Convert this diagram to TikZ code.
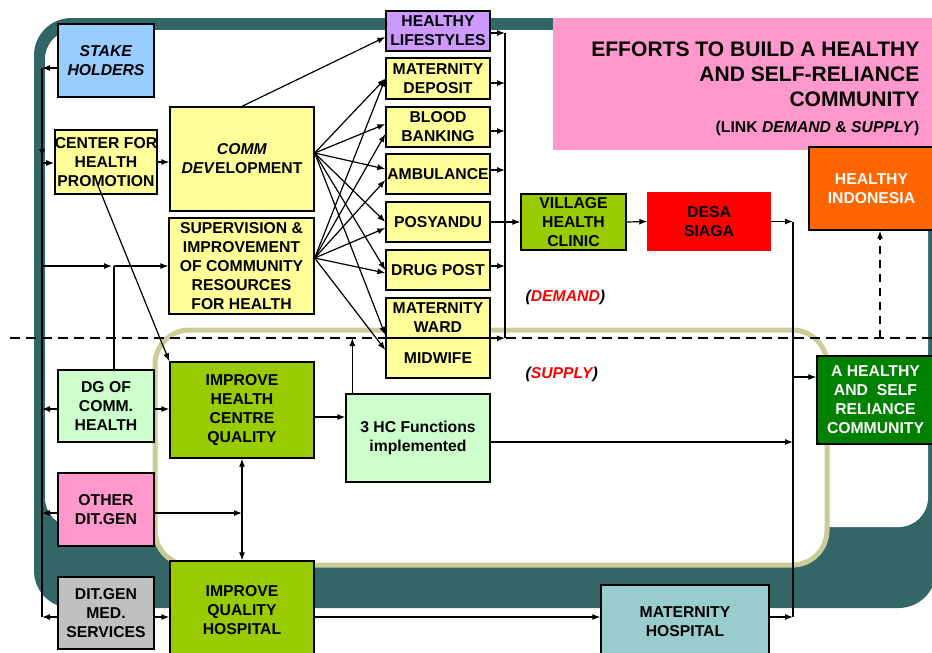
\documentclass[tikz,border=0pt]{standalone}
\usepackage{fontspec}
\setmainfont{Liberation Sans}
\usetikzlibrary{arrows.meta}

\definecolor{bandteal}{HTML}{336666}
\definecolor{rimbeige}{HTML}{CCCC99}
\definecolor{boxyellow}{HTML}{FFFF99}
\definecolor{boxblue}{HTML}{99CCFF}
\definecolor{boxlilac}{HTML}{CC99FF}
\definecolor{boxpink}{HTML}{FF99CC}
\definecolor{boxmint}{HTML}{CCFFCC}
\definecolor{boxlime}{HTML}{99CC00}
\definecolor{boxorange}{HTML}{FF6600}
\definecolor{boxgreen}{HTML}{008000}
\definecolor{boxgray}{HTML}{C0C0C0}
\definecolor{boxaqua}{HTML}{99CCCC}

\tikzset{
  box/.style={draw, line width=1pt, inner sep=0pt, align=center,
    font=\bfseries\fontsize{11.8}{14.2}\selectfont},
  sz/.style 2 args={minimum width=#1*0.75pt, minimum height=#2*0.75pt},
}

\begin{document}
\begin{tikzpicture}[x=0.75pt, y=-0.75pt, line width=0.9pt,
  >={Latex[length=6pt,width=4.5pt]}]

\useasboundingbox (0,0) rectangle (932,653);

% frame
\fill[bandteal, rounded corners=28pt] (34,18) rectangle (936,608);
\fill[white, rounded corners=22pt] (45,30) rectangle (928,527);
\draw[rimbeige, line width=3.75pt, fill=white, rounded corners=26pt] (155,330) rectangle (827,565);
\draw[dashed, dash pattern=on 7.5pt off 4.5pt, line width=1pt] (10,338) -- (932,338);

\node[fill=boxpink, minimum width=382*0.75pt, minimum height=132*0.75pt] (titlebox) at (744,84) {};
\node[anchor=north east, inner sep=0pt, align=right,
  font=\bfseries\fontsize{15.8}{19}\selectfont] (title) at (920,41)
  {EFFORTS TO BUILD A HEALTHY\\AND SELF-RELIANCE\\COMMUNITY\\
   {\fontsize{11.8}{14}\selectfont (LINK \textit{DEMAND} \& \textit{SUPPLY})}};

% left column
\node[box, sz={96}{73}, fill=boxblue] (sh) at (106,60.5) {\textit{STAKE}\\\textit{HOLDERS}};
\node[box, sz={96}{64}, fill=boxyellow] (chp) at (106,162) {CENTER FOR\\HEALTH\\PROMOTION};
\node[box, sz={96}{72}, fill=boxmint] (dg) at (106,406) {DG OF\\COMM.\\HEALTH};
\node[box, sz={96}{73}, fill=boxpink] (oth) at (106,509.5) {OTHER\\DIT.GEN};
\node[box, sz={96}{72}, fill=boxgray] (dgm) at (106,613) {DIT.GEN\\MED.\\SERVICES};

% middle column
\node[box, sz={144}{104}, fill=boxyellow] (cd) at (242,159) {\textit{COMM}\\\textit{DEV}ELOPMENT};
\node[box, sz={145}{96}, fill=boxyellow] (sup) at (241.5,266)
  {SUPERVISION \&\\IMPROVEMENT\\OF COMMUNITY\\RESOURCES\\FOR HEALTH};
\node[box, sz={144}{96}, fill=boxlime] (ihc) at (242,410) {IMPROVE\\HEALTH\\CENTRE\\QUALITY};
\node[box, sz={144}{99}, fill=boxlime] (iqh) at (242,610.5) {IMPROVE\\QUALITY\\HOSPITAL};
\node[box, sz={144}{88}, fill=boxmint] (hc) at (418,438) {3 HC Functions\\implemented};

% activities
\node[box, sz={104}{40}, fill=boxlilac] (hl) at (438,31) {HEALTHY\\LIFESTYLES};
\node[box, sz={104}{41}, fill=boxyellow] (md) at (438,78.5) {MATERNITY\\DEPOSIT};
\node[box, sz={104}{40}, fill=boxyellow] (bb) at (438,127) {BLOOD\\BANKING};
\node[box, sz={104}{40}, fill=boxyellow] (amb) at (438,174) {AMBULANCE};
\node[box, sz={104}{40}, fill=boxyellow] (pos) at (438,222) {POSYANDU};
\node[box, sz={104}{40}, fill=boxyellow] (dp) at (438,270) {DRUG POST};
\node[box, sz={104}{40}, fill=boxyellow] (mw) at (438,318) {MATERNITY\\WARD};
\node[box, sz={104}{40}, fill=boxyellow] (mid) at (438,358) {MIDWIFE};

% right side
\node[box, sz={105}{56}, fill=boxlime] (vhc) at (573.5,222) {VILLAGE\\HEALTH\\CLINIC};
\node[box, sz={122}{57}, fill=red, draw=red] (desa) at (709,221.5) {DESA\\SIAGA};
\node[box, sz={125}{83}, fill=boxorange, text=white] (hi) at (871.5,188.5) {HEALTHY\\INDONESIA};
\node[box, sz={117}{88}, fill=boxgreen, text=white] (ahs) at (875.5,400)
  {A HEALTHY\\AND\ \ SELF\\RELIANCE\\COMMUNITY};
\node[box, sz={168}{74}, fill=boxaqua] (mh) at (685,622) {MATERNITY\\HOSPITAL};

\node[anchor=west, inner sep=0pt, font=\bfseries\itshape\fontsize{11.8}{14}\selectfont] (demand)
  at (525,297) {(\textcolor{red}{DEMAND})};
\node[anchor=west, inner sep=0pt, font=\bfseries\itshape\fontsize{11.8}{14}\selectfont] (supply)
  at (525,374) {(\textcolor{red}{SUPPLY})};

% left bus
\coordinate (l1) at (42,68);
\coordinate (ldown) at (42,157);
\coordinate (l2) at (42,163);
\coordinate (l3) at (42,266);
\coordinate (l4) at (42,409);
\coordinate (l5) at (42,513);
\coordinate (l6) at (42,617);
\coordinate (dgtop) at (114,266);

\draw (l1) -- (l6);
\draw[->] (l1) -- (ldown);
\draw[->] (sh.west |- l1) -- (l1);
\draw[->] (l2) -- (l2 -| chp.west);
\draw[->] (chp.east) -- (chp.east -| cd.west);
\draw[->] (l3) -- ([xshift=-1.5pt]dgtop);
\draw[->] (dgtop) -- (dgtop -| sup.west);
\draw (dgtop) -- (dgtop |- dg.north);
\draw[->] (dg.west |- l4) -- (l4);
\draw[->] (dg.east |- l4) -- (l4 -| ihc.west);
\draw[->] (oth.west |- l5) -- (l5);
\draw[->] (oth.east |- l5) -- (l5 -| ihc.south);
\draw[<->] (ihc.south) -- (iqh.north);
\draw[->] (dgm.west |- l6) -- (l6);
\draw[->] (dgm.east |- l6) -- (l6 -| iqh.west);
\draw[->] (iqh.east |- l6) -- (l6 -| mh.west);
\draw[->] ([xshift=-6pt,yshift=6.75pt]chp.south) -- (ihc.north west);

% fan to activities
\draw[->] (cd.north) -- ([yshift=-4.5pt]hl.west);
\draw[->] ([yshift=4.5pt]cd.east) -- (md.west);
\draw[->] ([yshift=4.5pt]cd.east) -- ([yshift=2.25pt]bb.west);
\draw[->] ([yshift=4.5pt]cd.east) -- ([yshift=3.75pt]amb.west);
\draw[->] ([yshift=4.5pt]cd.east) -- (pos.west);
\draw[->] ([yshift=4.5pt]cd.east) -- (dp.west);
\draw[->] ([yshift=4.5pt]cd.east) -- ([yshift=-12.75pt]mw.west);
\draw[->] ([yshift=6pt]sup.east) -- (md.west);
\draw[->] ([yshift=6pt]sup.east) -- ([yshift=-5.25pt]bb.west);
\draw[->] ([yshift=6pt]sup.east) -- ([yshift=-4.5pt]amb.west);
\draw[->] ([yshift=6pt]sup.east) -- ([yshift=-4.5pt]pos.west);
\draw[->] ([yshift=6pt]sup.east) -- ([yshift=-2.25pt]dp.west);
\draw[->] ([yshift=6pt]sup.east) -- ([yshift=6pt]mid.west);

% collector bus
\coordinate (cbt) at (505,33);
\coordinate (cbb) at (505,338);
\draw (cbt) -- (cbb);
\draw[->] (hl.east |- cbt) -- (cbt);
\draw[->] ([yshift=-3.4pt]md.east) -- ([yshift=-3.4pt]md.east -| cbt);
\draw[->] ([yshift=-3pt]bb.east) -- ([yshift=-3pt]bb.east -| cbt);
\draw[->] ([yshift=3pt]amb.east) -- ([yshift=3pt]amb.east -| cbt);
\draw[->] ([yshift=3pt]dp.east) -- ([yshift=3pt]dp.east -| cbt);
\draw[->] (mw.south east) -- (cbb);
\draw[->] (pos.east) -- (vhc.west);
\draw[->] (vhc.east) -- (desa.west);

% right bus
\coordinate (rt) at (793,221.5);
\coordinate (r2) at (793,377);
\coordinate (r3) at (793,442);
\coordinate (rb) at (793,617);
\draw (rt) -- (rb);
\draw[->] (desa.east) -- (rt);
\draw[->] (mh.east |- rb) -- (rb);
\draw[->] (hc.east |- r3) -- (r3);
\draw[->] (r2) -- (r2 -| ahs.west);
\draw[->] ([yshift=-5.25pt]ihc.east) -- ([yshift=-5.25pt]ihc.east -| hc.west);
\draw[->] ([xshift=5.25pt]hc.north west) -- ([xshift=5.25pt]hc.north west |- cbb);

\coordinate (hiin) at (880,338);
\draw[->, dashed, dash pattern=on 6pt off 4.5pt] (hiin) -- (hiin |- hi.south);

\end{tikzpicture}
\end{document}
